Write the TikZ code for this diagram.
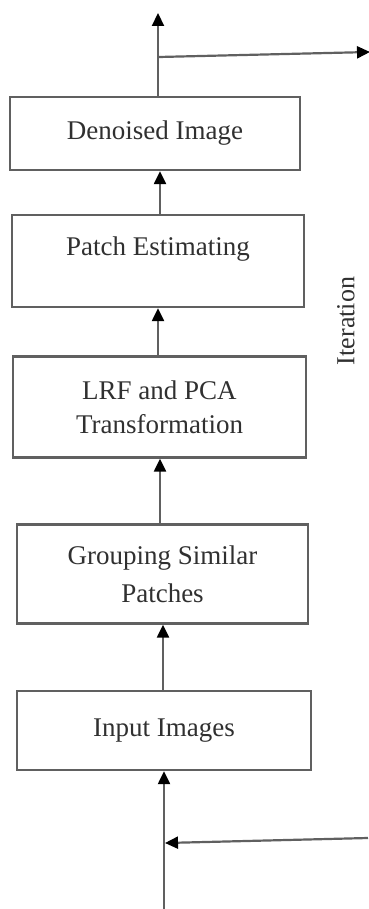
\documentclass[tikz,border=0pt]{standalone}
\usepackage{fontspec}
\setmainfont{Liberation Serif}
\usetikzlibrary{arrows.meta}
\definecolor{linegray}{HTML}{606060}
\definecolor{textgray}{HTML}{303030}
\begin{document}
\begin{tikzpicture}[x=1pt,y=-1pt,
  box/.style={draw=linegray, line width=2.3pt, rectangle, inner sep=0pt,
    text=textgray, font=\fontsize{27}{34}\selectfont, align=center},
  conn/.style={draw=linegray, line width=2.2pt,
    -{Triangle[length=13pt,width=12pt,color=black]}}]
\useasboundingbox (0,0) rectangle (368,909);
% boxes
\node[box, minimum width=290pt, minimum height=73pt] (di) at (155,133.5) {Denoised Image};
\node[box, minimum width=292pt, minimum height=92pt] (pe) at (158,261) {};
\node[text=textgray, font=\fontsize{27}{34}\selectfont, inner sep=0pt] (pet) at (158,249) {Patch Estimating};
\node[box, minimum width=293pt, minimum height=101pt] (lrf) at (159.5,407) {LRF and PCA\\Transformation};
\node[box, minimum width=291pt, minimum height=99pt, font=\fontsize{27}{38}\selectfont] (gsp) at (162.5,574) {Grouping Similar\\Patches};
\node[box, minimum width=294pt, minimum height=79pt] (ii) at (164,730.5) {Input Images};
% iteration label
\node[text=textgray, font=\fontsize{26}{30}\selectfont, rotate=90, inner sep=0pt] (it) at (346,321) {Iteration};
% helper coordinates
\coordinate (c1) at (160,0);
\coordinate (c2) at (158,0);
\coordinate (c3) at (160,0);
\coordinate (c4) at (163,0);
\coordinate (c5) at (164,0);
\coordinate (top) at (158,13);
\coordinate (br) at (159,57);
\coordinate (rout) at (370,52);
\coordinate (bot) at (164,909);
\coordinate (rin) at (368,838);
\coordinate (jn) at (165,843);
% connectors
\draw[conn] (di.north -| c2) -- (top);
\draw[conn] (br) -- (rout);
\draw[conn] (pe.north -| c1) -- (di.south -| c1);
\draw[conn] (lrf.north -| c2) -- (pe.south -| c2);
\draw[conn] (gsp.north -| c3) -- (lrf.south -| c3);
\draw[conn] (ii.north -| c4) -- (gsp.south -| c4);
\draw[conn] (bot) -- (ii.south -| c5);
\draw[conn] (rin) -- (jn);
\end{tikzpicture}
\end{document}
